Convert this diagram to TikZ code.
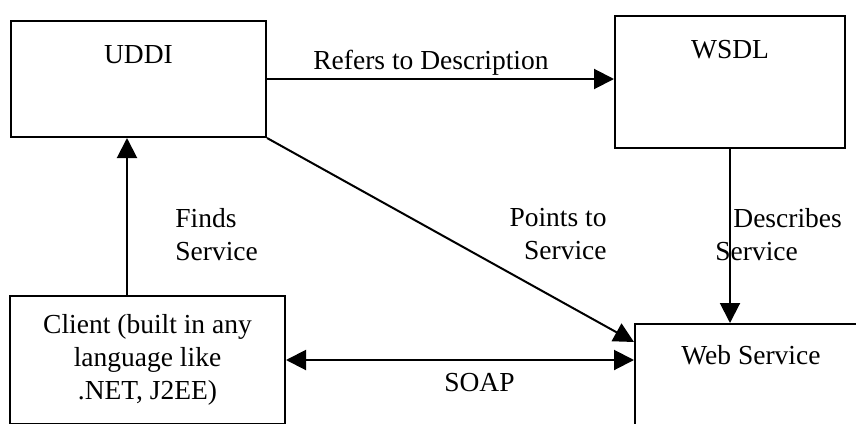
\documentclass[tikz,border=0pt]{standalone}
\usepackage{fontspec}
\setmainfont{Liberation Serif}
\usetikzlibrary{arrows.meta,positioning,calc}

\begin{document}
\begin{tikzpicture}[x=0.5pt,y=-0.5pt,
    box/.style={draw,line width=1pt,inner sep=0pt,font=\fontsize{13.75}{16.5}\selectfont},
    lbl/.style={inner sep=0pt,font=\fontsize{13.75}{16.5}\selectfont},
    arrow/.style={-{Triangle[length=10pt,width=10pt]},line width=1pt},
    biarrow/.style={{Triangle[length=10pt,width=10pt]}-{Triangle[length=10pt,width=10pt]},line width=1pt}
  ]
  \useasboundingbox (0,0) rectangle (856,423);
  \node[box,anchor=north west,minimum width=127.5pt,text height=21pt,text depth=37pt] (uddi) at (10,20) {UDDI};
  \node[box,anchor=north west,minimum width=115pt,text height=21pt,text depth=45pt] (wsdl) at (614,15) {WSDL};
  \node[box,minimum width=137.5pt,minimum height=64pt,align=center] (client) at (147.5,360) {Client (built in any\\language like\\.NET, J2EE)};
  \node[box,anchor=north west,minimum width=116pt,text height=20pt,text depth=40pt] (ws) at (634,323) {Web Service};
  \draw[arrow] (uddi.east) -- (wsdl.west |- uddi.east) node[lbl,midway,above=1.5pt,xshift=-4.75pt] (refers) {Refers to Description};
  \draw[arrow] (wsdl.south) -- (wsdl.south |- ws.north);
  \draw[arrow] ([xshift=59pt]client.north west) -- ([xshift=59pt]client.north west |- uddi.south);
  \draw[arrow] (uddi.south east) -- ([yshift=-9.5pt]ws.north west);
  \draw[biarrow] (client.east) -- (ws.west |- client.east) node[lbl,midway,below=6pt,xshift=9.75pt] (soap) {SOAP};
  \node[lbl,anchor=north west,align=left] (finds) at (175,208) {Finds\\Service};
  \node[lbl,anchor=north east,align=right] (points) at (607,208) {Points to\\Service};
  \node[lbl,anchor=north west,align=left] (describes) at (733,208) {Describes\\\hspace*{-9pt}Service};
\end{tikzpicture}
\end{document}
